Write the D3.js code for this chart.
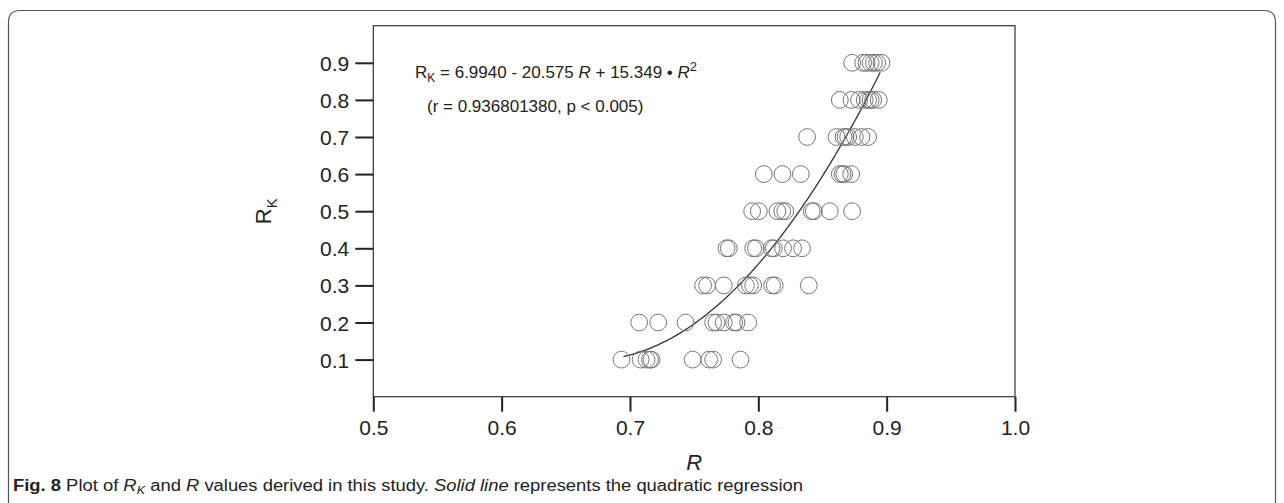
<!DOCTYPE html>
<html>
<head>
<meta charset="utf-8">
<script src="https://cdn.jsdelivr.net/npm/d3@7"></script>
<style>
	body { margin: 0; background: #fff; }
	svg { display: block; }
	text { font-family: "Liberation Sans", Arial, sans-serif; fill: #222; }
</style>
</head>
<body>
<svg id="chart" width="1284" height="503"></svg>
<script>
var rkLevels = [0.9, 0.8, 0.7, 0.6, 0.5, 0.4, 0.3, 0.2, 0.1];
var rValues = [
	[0.8731, 0.8817, 0.8843, 0.8875, 0.8901, 0.8926, 0.8960],
	[0.8635, 0.8726, 0.8785, 0.8829, 0.8855, 0.8875, 0.8895, 0.8938],
	[0.8380, 0.8609, 0.8664, 0.8680, 0.8700, 0.8752, 0.8804, 0.8855],
	[0.8043, 0.8188, 0.8331, 0.8635, 0.8655, 0.8670, 0.8724],
	[0.7952, 0.8004, 0.8149, 0.8186, 0.8210, 0.8416, 0.8432, 0.8557, 0.8731],
	[0.7752, 0.7770, 0.7960, 0.7981, 0.8103, 0.8121, 0.8193, 0.8271, 0.8341],
	[0.7570, 0.7601, 0.7731, 0.7903, 0.7934, 0.7960, 0.8107, 0.8128, 0.8393],
	[0.7072, 0.7220, 0.7433, 0.7648, 0.7674, 0.7731, 0.7812, 0.7830, 0.7921],
	[0.6934, 0.7083, 0.7129, 0.7155, 0.7168, 0.7488, 0.7617, 0.7648, 0.7861]
];

// quadratic regression R_K = a + b R + c R^2, drawn over the fitted R range
var fitCoefs = [6.9940, -20.575, 15.349];
var fitRange = [0.695, 0.896];

var xTicks = [0.5, 0.6, 0.7, 0.8, 0.9, 1.0];
var yTicks = [0.1, 0.2, 0.3, 0.4, 0.5, 0.6, 0.7, 0.8, 0.9];

var svg = d3.select('#chart');

var plot = { left: 373.3, right: 1015, top: 25.7, bottom: 396.7 };

var x = d3.scaleLinear().domain([0.5, 1.0]).range([plot.left, plot.right]);
var y = d3.scaleLinear().domain([0, 1.0]).range([plot.bottom, plot.top]);

// outer figure frame, open at the bottom
svg.append('path')
	.attr('d', 'M8.5 503 L8.5 22 Q8.5 10.5 20 10.5 L1264 10.5 Q1275.5 10.5 1275.5 22 L1275.5 503')
	.attr('fill', 'none')
	.attr('stroke', '#555')
	.attr('stroke-width', 1.2);

// plot box
svg.append('rect')
	.attr('x', plot.left)
	.attr('y', plot.top)
	.attr('width', plot.right - plot.left)
	.attr('height', plot.bottom - plot.top)
	.attr('fill', 'none')
	.attr('stroke', '#333')
	.attr('stroke-width', 1.2);

var xAxis = svg.append('g')
	.attr('transform', 'translate(0,' + plot.bottom + ')')
	.call(d3.axisBottom(x).tickValues(xTicks).tickSize(15).tickPadding(8).tickFormat(d3.format('.1f')));

var yAxis = svg.append('g')
	.attr('transform', 'translate(' + plot.left + ',0)')
	.call(d3.axisLeft(y).tickValues(yTicks).tickSize(18).tickPadding(6).tickFormat(d3.format('.1f')));

[xAxis, yAxis].forEach(function(ax) {
	ax.select('.domain').remove();
	ax.selectAll('.tick line').attr('stroke', '#222').attr('stroke-width', 2);
	ax.selectAll('.tick text')
		.attr('fill', '#222')
		.style('font-family', '"Liberation Sans", Arial, sans-serif')
		.style('font-size', '21px');
});
yAxis.selectAll('.tick text').attr('dy', '0.36em');

// axis titles
svg.append('text')
	.attr('x', x(0.75))
	.attr('y', 470)
	.attr('text-anchor', 'middle')
	.style('font-size', '22px')
	.style('font-style', 'italic')
	.text('R');

var yTitle = svg.append('text')
	.attr('transform', 'translate(271,' + y(0.5) + ') rotate(-90)')
	.attr('text-anchor', 'middle')
	.style('font-size', '22px');
yTitle.append('tspan').text('R');
yTitle.append('tspan').attr('dy', 6).style('font-size', '15px').text('K');

// regression curve
var curvePts = d3.range(fitRange[0], fitRange[1] + 0.0001, 0.002).map(function(r) {
	return [r, fitCoefs[0] + fitCoefs[1] * r + fitCoefs[2] * r * r];
});
svg.append('path')
	.datum(curvePts)
	.attr('d', d3.line().x(function(d) { return x(d[0]); }).y(function(d) { return y(d[1]); }).curve(d3.curveMonotoneX))
	.attr('fill', 'none')
	.attr('stroke', '#333')
	.attr('stroke-width', 1.3);

// data circles
var points = [];
rkLevels.forEach(function(rk, i) {
	rValues[i].forEach(function(r) { points.push({ r: r, rk: rk }); });
});

svg.append('g').selectAll('circle')
	.data(points)
	.enter().append('circle')
	.attr('cx', function(d) { return x(d.r); })
	.attr('cy', function(d) { return y(d.rk); })
	.attr('r', 8.4)
	.attr('fill', 'none')
	.attr('stroke', '#777')
	.attr('stroke-width', 1);

// equation inside the plot
var eq = svg.append('text')
	.attr('x', 415)
	.attr('y', 78)
	.style('font-size', '17px');
eq.append('tspan').text('R');
eq.append('tspan').attr('dy', 4).style('font-size', '12px').text('K');
eq.append('tspan').attr('dy', -4).text(' = 6.9940 - 20.575 ');
eq.append('tspan').style('font-style', 'italic').text('R');
eq.append('tspan').text(' + 15.349 \u2022 ');
eq.append('tspan').style('font-style', 'italic').text('R');
eq.append('tspan').attr('dy', -7).style('font-size', '13px').text('2');

svg.append('text')
	.attr('x', 427)
	.attr('y', 112)
	.style('font-size', '17px')
	.text('(r = 0.936801380, p < 0.005)');

// figure caption
var cap = svg.append('text')
	.attr('x', 13)
	.attr('y', 491)
	.attr('textLength', 790)
	.attr('lengthAdjust', 'spacingAndGlyphs')
	.style('font-family', '"Liberation Sans Narrow", "Liberation Sans", Arial, sans-serif')
	.style('font-size', '16px');
cap.append('tspan').style('font-weight', 'bold').text('Fig. 8');
cap.append('tspan').text(' Plot of ');
cap.append('tspan').style('font-style', 'italic').text('R');
cap.append('tspan').attr('dy', 3).style('font-style', 'italic').style('font-size', '11px').text('K');
cap.append('tspan').attr('dy', -3).text(' and ');
cap.append('tspan').style('font-style', 'italic').text('R');
cap.append('tspan').text(' values derived in this study. ');
cap.append('tspan').style('font-style', 'italic').text('Solid line');
cap.append('tspan').text(' represents the quadratic regression');
</script>
</body>
</html>
